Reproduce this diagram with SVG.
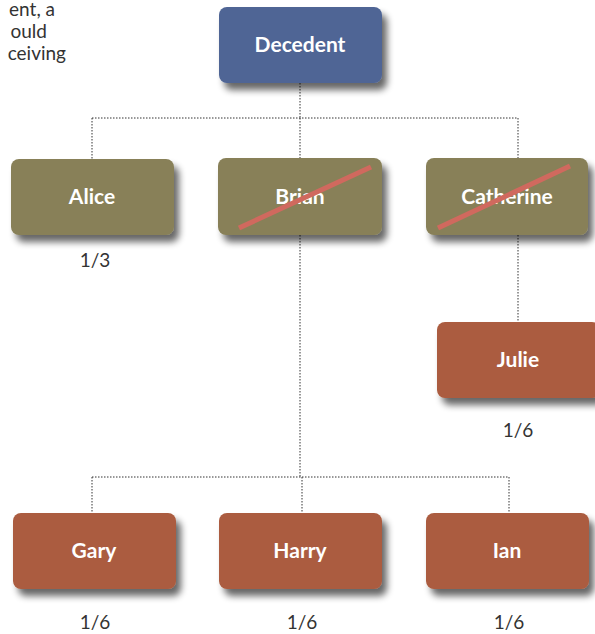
<svg xmlns="http://www.w3.org/2000/svg" width="595" height="634" viewBox="0 0 595 634">
<style>
.lbl{font-family:"Lato","Open Sans","Liberation Sans",sans-serif;font-weight:bold;font-size:21px;fill:#ffffff;text-anchor:middle}
.frac{font-family:"Lato","Open Sans","Liberation Sans",sans-serif;font-size:19px;fill:#333333;text-anchor:middle}
.intro{font-family:"Lato","Open Sans","Liberation Sans",sans-serif;font-size:19px;fill:#333333;text-anchor:end}
.con{fill:none;stroke:#333333;stroke-width:1;stroke-dasharray:1.5 1.5}
.strike{stroke:#d0695e;stroke-width:5}
.blue{fill:#4f6595}
.olive{fill:#888059}
.rust{fill:#ab5c3f}
</style>
<defs>
<filter id="sh" x="-20%" y="-20%" width="150%" height="170%">
<feGaussianBlur in="SourceAlpha" stdDeviation="3.5"/>
<feOffset dx="5" dy="7" result="b"/>
<feComponentTransfer><feFuncA type="linear" slope="0.6"/></feComponentTransfer>
<feMerge><feMergeNode/><feMergeNode in="SourceGraphic"/></feMerge>
</filter>
</defs>
<rect width="595" height="634" fill="#ffffff"/>
<text class="intro" x="55" y="16">ent, a</text>
<text class="intro" x="47" y="38">ould</text>
<text class="intro" x="66" y="60">ceiving</text>
<g id="connectors">
<path class="con" d="M300,83 V118 M92,118 H518 M92,118 V159 M300,118 V158 M518,118 V158"/>
<path class="con" d="M300,235 V477 M92,477 H509 M92,477 V513 M302,477 V513 M509,477 V513"/>
<path class="con" d="M518,235 V322"/>
</g>
<g id="decedent"><rect class="blue" x="219" y="7" width="163" height="76" rx="8" filter="url(#sh)"/><text class="lbl" x="300" y="52">Decedent</text></g>
<g id="alice"><rect class="olive" x="11" y="159" width="163" height="76" rx="8" filter="url(#sh)"/><text class="lbl" x="92" y="204">Alice</text></g>
<text class="frac" x="95" y="267">1/3</text>
<g id="brian"><rect class="olive" x="218" y="158" width="164" height="77" rx="8" filter="url(#sh)"/><text class="lbl" x="300" y="204">Brian</text><line class="strike" x1="239" y1="228" x2="371" y2="167"/></g>
<g id="catherine"><rect class="olive" x="426" y="158" width="162" height="77" rx="8" filter="url(#sh)"/><text class="lbl" x="507" y="204">Catherine</text><line class="strike" x1="438" y1="228" x2="570" y2="166"/></g>
<g id="julie"><rect class="rust" x="437" y="322" width="163" height="76" rx="8" filter="url(#sh)"/><text class="lbl" x="518" y="367">Julie</text></g>
<text class="frac" x="518" y="437">1/6</text>
<g id="gary"><rect class="rust" x="13" y="513" width="163" height="76" rx="8" filter="url(#sh)"/><text class="lbl" x="94" y="558">Gary</text></g>
<g id="harry"><rect class="rust" x="219" y="513" width="163" height="76" rx="8" filter="url(#sh)"/><text class="lbl" x="300" y="558">Harry</text></g>
<g id="ian"><rect class="rust" x="426" y="513" width="163" height="76" rx="8" filter="url(#sh)"/><text class="lbl" x="507" y="558">Ian</text></g>
<text class="frac" x="95" y="629">1/6</text>
<text class="frac" x="302" y="629">1/6</text>
<text class="frac" x="509" y="629">1/6</text>
</svg>
